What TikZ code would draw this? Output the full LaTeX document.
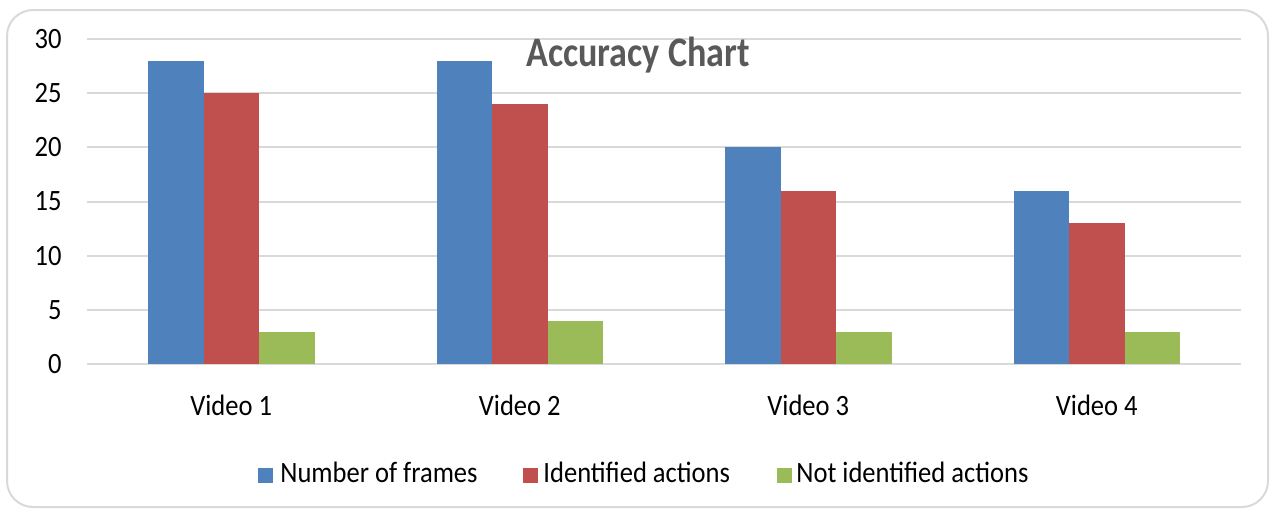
\documentclass[tikz,border=0pt]{standalone}
\usepackage{fontspec}
\setmainfont{Carlito}[FakeStretch=0.9]
\newfontfamily\headfont{Carlito}[FakeStretch=0.86]
\usepackage{tikz}
\usetikzlibrary{positioning}
\definecolor{framesblue}{HTML}{4F81BD}
\definecolor{identred}{HTML}{C0504D}
\definecolor{notidgreen}{HTML}{9BBB59}
\definecolor{gridgray}{HTML}{D9D9D9}
\definecolor{titlegray}{HTML}{595959}
\tikzset{
	gridline/.style={gridgray, line width=1pt},
	chartlabel/.style={inner sep=0pt, font=\fontsize{14.75}{16}\selectfont},
	keybox/.style={minimum size=7.5pt, inner sep=0pt, anchor=north west}
}

\begin{document}
\begin{tikzpicture}[x=0.5pt,y=-0.5pt]
	\useasboundingbox (0,0) rectangle (1270,509);
	%\draw[help lines] (0,0) grid[step=50] (1270,509);
	\draw[gridgray, line width=1pt, rounded corners=13pt] (7,10) rectangle (1268,507);
	% grid and values
	\foreach \v in {0,5,...,30}{
		\draw[gridline] (87,{364-10.833*\v}) -- (1241,{364-10.833*\v});
		\node[chartlabel, anchor=east] (tick\v) at (62,{364-10.833*\v}) {\v};
	}
	\node[inner sep=0pt, anchor=base, text=titlegray, font=\headfont\fontsize{21}{25}\selectfont\bfseries] (title) at (638,66) {Accuracy Chart};
	% bars
	\foreach \cx/\a/\b/\c/\n in {231.25/28/25/3/1, 519.75/28/24/4/2, 808.25/20/16/3/3, 1096.75/16/13/3/4}{
		\fill[framesblue] ({\cx-83.25},364) rectangle ({\cx-27.75},{364-10.833*\a});
		\fill[identred] ({\cx-27.75},364) rectangle ({\cx+27.75},{364-10.833*\b});
		\fill[notidgreen] ({\cx+27.75},364) rectangle ({\cx+83.25},{364-10.833*\c});
		\node[chartlabel, anchor=base] (video\n) at (\cx,415) {Video \n};
	}
	% legend
	\node[keybox, fill=framesblue] (keyframes) at (258,468) {};
	\node[chartlabel, anchor=base west] (txtframes) at (280,482) {Number of frames};
	\node[keybox, fill=identred] (keyident) at (523,468) {};
	\node[chartlabel, anchor=base west] (txtident) at (543,482) {Identified actions};
	\node[keybox, fill=notidgreen] (keynotid) at (777,468) {};
	\node[chartlabel, anchor=base west] (txtnotid) at (796,482) {Not identified actions};
\end{tikzpicture}
\end{document}
